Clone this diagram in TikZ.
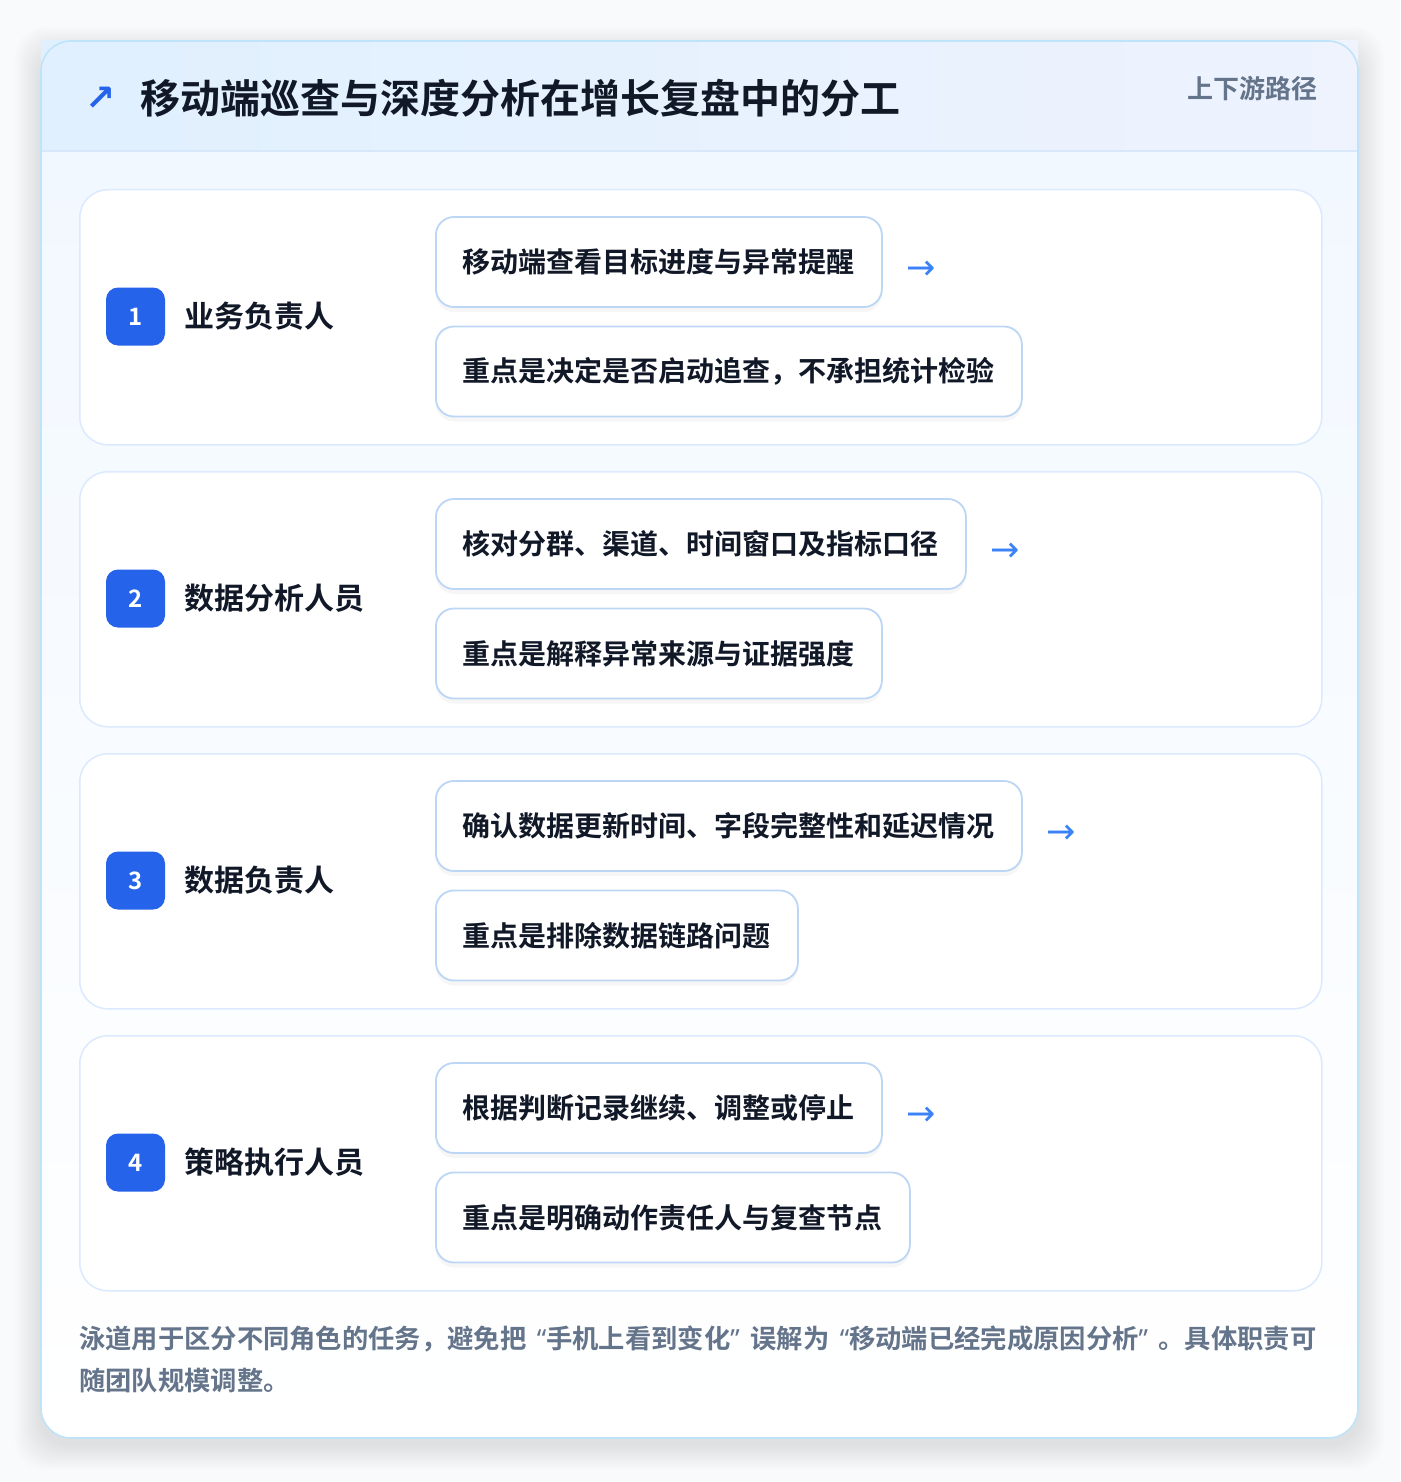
\documentclass[tikz,border=0pt]{standalone}
\usepackage{fontspec}
\setmainfont{Noto Sans CJK SC}[BoldFont={Noto Sans CJK SC Bold}]
\newfontfamily\symfont{DejaVu Sans}
\newfontfamily\qfont{Noto Sans}
\definecolor{pagebg}{HTML}{F9FAFB}
\definecolor{cardbd}{HTML}{BFE3F8}
\definecolor{headA}{HTML}{E0F0FE}
\definecolor{headB}{HTML}{EEF3FE}
\definecolor{headln}{HTML}{D7E8FB}
\definecolor{bodytop}{HTML}{F2F8FF}
\definecolor{lanebd}{HTML}{DBEAFE}
\definecolor{taskbd}{HTML}{BCD6F5}
\definecolor{badgec}{HTML}{2563EB}
\definecolor{darktxt}{HTML}{111827}
\definecolor{graytxt}{HTML}{64748B}
\definecolor{arrowc}{HTML}{3B82F6}
\newcommand{\myLq}{\makebox[20pt][r]{\qfont\bfseries “}}
\newcommand{\myRq}{\makebox[20pt][l]{\qfont\bfseries ”}}
\begin{document}
\begin{tikzpicture}[x=1pt,y=-1pt,
  lane/.style={draw=lanebd, line width=1.5pt, fill=white, rounded corners=28pt,
    minimum width=1242pt, minimum height=255pt, anchor=north west, inner sep=0pt},
  badge/.style={fill=badgec, rounded corners=12pt, minimum width=59pt, minimum height=58pt,
    inner sep=0pt, text=white, font=\bfseries\fontsize{24}{28}\selectfont},
  role/.style={anchor=west, inner sep=0pt, text=darktxt, font=\bfseries\fontsize{30}{36}\selectfont},
  task/.style={anchor=west, draw=taskbd, line width=1.8pt, fill=white, rounded corners=18pt,
    minimum height=90pt, inner xsep=27pt, inner ysep=0pt, text=darktxt,
    font=\bfseries\fontsize{28}{34}\selectfont,
    preaction={fill=black, opacity=0.035, draw=none, transform canvas={yshift=-5pt}}},
  flow/.style={anchor=west, inner sep=0pt, text=arrowc, font=\symfont\fontsize{35}{38}\selectfont}
]
\useasboundingbox (0,0) rectangle (1400,1482);
\fill[pagebg] (0,0) rectangle (1400,1482);
% soft card shadow
\foreach \s in {2,4,...,26}{
  \fill[black, opacity=0.007, rounded corners=30pt] (41-\s,41-\s+12) rectangle (1358+\s,1438+\s+6);
}
\path[fill=white, rounded corners=30pt] (41,41) rectangle (1358,1438);
\begin{scope}
  \clip[rounded corners=30pt] (41,41) rectangle (1358,1438);
  \shade[top color=bodytop, bottom color=white] (41,151) rectangle (1358,1438);
\end{scope}
\shade[left color=headA, right color=headB] (41,41) rectangle (1358,151);
\draw[headln, line width=1.2pt] (41,151) -- (1358,151);
\draw[cardbd, line width=1.6pt, rounded corners=30pt] (41,41) rectangle (1358,1438);
% header
\node[anchor=center, inner sep=0pt, text=badgec, font=\symfont\bfseries\fontsize{36}{38}\selectfont] (icon) at (101,99) {↗};
\node[anchor=west, inner sep=0pt, text=darktxt, font=\bfseries\fontsize{40}{48}\selectfont] (title) at (140,98) {移动端巡查与深度分析在增长复盘中的分工};
\node[anchor=east, inner sep=0pt, text=graytxt, font=\bfseries\fontsize{26}{30}\selectfont] (tag) at (1318,89) {上下游路径};
% lanes
\node[lane] (lane1) at (79,189) {};
\node[lane] (lane2) at (79,471) {};
\node[lane] (lane3) at (79,753) {};
\node[lane] (lane4) at (79,1035) {};
% lane 1
\node[badge] (b1) at (135.5,316.5) {1};
\node[role] (r1) at (184,316.5) {业务负责人};
\node[task] (t1a) at (435,262) {移动端查看目标进度与异常提醒};
\node[task] (t1b) at (435,371.5) {重点是决定是否启动追查，不承担统计检验};
\node[flow] (f1) at ([xshift=23pt,yshift=-8pt]t1a.east) {→};
% lane 2
\node[badge] (b2) at (135.5,598.5) {2};
\node[role] (r2) at (184,598.5) {数据分析人员};
\node[task] (t2a) at (435,544) {核对分群、渠道、时间窗口及指标口径};
\node[task] (t2b) at (435,653.5) {重点是解释异常来源与证据强度};
\node[flow] (f2) at ([xshift=23pt,yshift=-8pt]t2a.east) {→};
% lane 3
\node[badge] (b3) at (135.5,880.5) {3};
\node[role] (r3) at (184,880.5) {数据负责人};
\node[task] (t3a) at (435,826) {确认数据更新时间、字段完整性和延迟情况};
\node[task] (t3b) at (435,935.5) {重点是排除数据链路问题};
\node[flow] (f3) at ([xshift=23pt,yshift=-8pt]t3a.east) {→};
% lane 4
\node[badge] (b4) at (135.5,1162.5) {4};
\node[role] (r4) at (184,1162.5) {策略执行人员};
\node[task] (t4a) at (435,1108) {根据判断记录继续、调整或停止};
\node[task] (t4b) at (435,1217.5) {重点是明确动作责任人与复查节点};
\node[flow] (f4) at ([xshift=23pt,yshift=-8pt]t4a.east) {→};
% footer
\node[anchor=north west, inner sep=0pt, align=left, text=graytxt,
  font=\bfseries\fontsize{26.3}{42}\selectfont] (note) at (79,1326)
  {泳道用于区分不同角色的任务，避免把\myLq 手机上看到变化\myRq 误解为\myLq 移动端已经完成原因分析\myRq 。具体职责可\\随团队规模调整。};
\end{tikzpicture}
\end{document}
